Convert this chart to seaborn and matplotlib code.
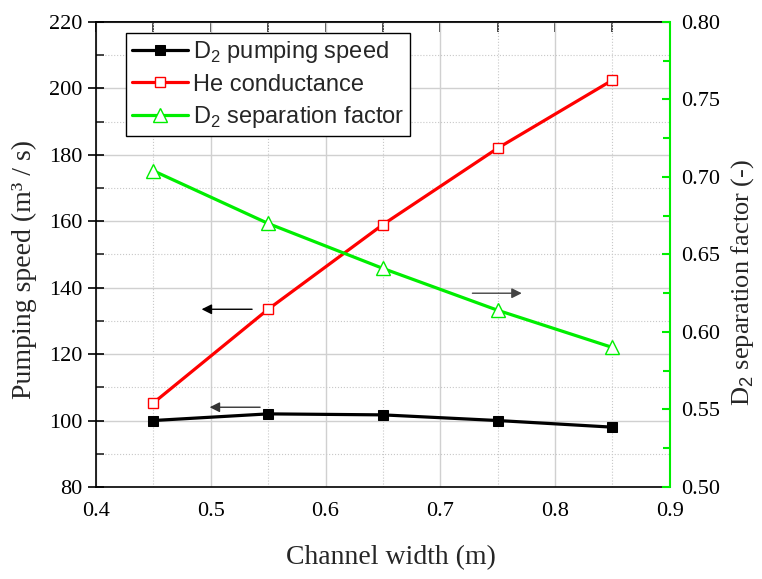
import pandas as pd
import numpy as np
import matplotlib
matplotlib.use("Agg")
import matplotlib.pyplot as plt
from matplotlib.ticker import MultipleLocator, FormatStrFormatter
import seaborn as sns

channel_width = [0.45, 0.55, 0.65, 0.75, 0.85]
d2_pumping = [100.0, 102.0, 101.7, 100.0, 98.0]
he_conductance = [105.3, 133.5, 159.0, 182.0, 202.5]
d2_separation = [0.704, 0.670, 0.641, 0.614, 0.590]

df = pd.DataFrame({
    'width': channel_width,
    'pump': d2_pumping,
    'he': he_conductance,
    'sep': d2_separation,
})

sns.set_theme(style="white")
plt.rcParams['font.family'] = ['Liberation Serif', 'DejaVu Serif']
plt.rcParams['mathtext.fontset'] = 'custom'
plt.rcParams['mathtext.rm'] = 'Liberation Sans'

fig = plt.figure(figsize=(7.62, 5.79), dpi=100)
ax = fig.add_axes([0.126, 0.159, 0.753, 0.803])
ax2 = ax.twinx()

sns.lineplot(data=df, x='width', y='pump', ax=ax, color='black', lw=2.3,
             marker='s', markersize=7.5, markerfacecolor='black',
             markeredgecolor='black', label='D$_2$ pumping speed', legend=False)
sns.lineplot(data=df, x='width', y='he', ax=ax, color='#ff0000', lw=2.3,
             marker='s', markersize=7.5, markerfacecolor='white',
             markeredgecolor='#ff0000', markeredgewidth=1,
             label='He conductance', legend=False)
sns.lineplot(data=df, x='width', y='sep', ax=ax2, color='#00ee00', lw=2.3,
             marker='^', markersize=10, markerfacecolor='white',
             markeredgecolor='#00ee00', markeredgewidth=1,
             label='D$_2$ separation factor', legend=False)

ax.set_xlim(0.4, 0.9)
ax.set_ylim(80, 220)
ax2.set_ylim(0.5, 0.8)

ax.xaxis.set_major_locator(MultipleLocator(0.1))
ax.xaxis.set_minor_locator(MultipleLocator(0.05))
ax.yaxis.set_major_locator(MultipleLocator(20))
ax.yaxis.set_minor_locator(MultipleLocator(10))
ax2.yaxis.set_major_locator(MultipleLocator(0.05))
ax2.yaxis.set_minor_locator(MultipleLocator(0.025))
ax2.yaxis.set_major_formatter(FormatStrFormatter('%.2f'))

ax.grid(which='major', color='#d0d0d0', lw=1, ls='-')
ax.grid(which='minor', color='#c8c8c8', lw=0.8, ls=':')
ax.set_axisbelow(True)

for s in ax.spines.values():
    s.set_color('black')
    s.set_linewidth(1.2)
ax2.spines['right'].set_color('#00ee00')
ax2.spines['right'].set_linewidth(1.5)
ax2.spines['left'].set_visible(False)
ax2.spines['top'].set_visible(False)
ax2.spines['bottom'].set_visible(False)

ax.tick_params(axis='both', which='major', direction='inout', length=12,
               width=1.2, labelsize=16, colors='black')
ax.tick_params(axis='y', which='minor', direction='in', length=6, width=1.2)
ax.tick_params(axis='x', which='minor', direction='out', length=5, width=1.2)
ax.tick_params(axis='x', pad=5)
ax.tick_params(axis='y', right=False, pad=4)

# top axis: inward ticks every 0.05, no labels
top = ax.secondary_xaxis('top')
top.xaxis.set_major_locator(MultipleLocator(0.05))
top.tick_params(direction='in', length=7, width=1.2, labeltop=False)
top.spines['top'].set_linewidth(1.2)

ax2.tick_params(axis='y', which='major', direction='in', length=6, width=1.5,
                color='#00ee00', labelcolor='black', labelsize=16, pad=8)
ax2.tick_params(axis='y', which='minor', direction='in', length=5, width=1.5,
                color='#00ee00')

ax.set_xlabel('Channel width (m)', fontsize=20)
ax.set_ylabel('Pumping speed (m³ / s)', fontsize=20)
ax2.set_ylabel('D$_2$ separation factor (-)', fontsize=19)
ax.xaxis.set_label_coords(0.514, -0.125)
ax.yaxis.set_label_coords(-0.102, 0.467)
ax2.yaxis.set_label_coords(1.104, 0.44)

# direction arrows
arrow_kw = dict(arrowstyle='-|>', lw=1, mutation_scale=15, shrinkA=0, shrinkB=0)
ax.annotate('', xy=(0.492, 133.5), xytext=(0.536, 133.5),
            arrowprops=dict(color='black', **arrow_kw))
ax.annotate('', xy=(0.499, 104), xytext=(0.543, 104),
            arrowprops=dict(color='#333333', **arrow_kw))
ax2.annotate('', xy=(0.771, 0.625), xytext=(0.728, 0.625),
             arrowprops=dict(color='#444444', **arrow_kw))

h1, l1 = ax.get_legend_handles_labels()
h2, l2 = ax2.get_legend_handles_labels()
leg = ax.legend(h1 + h2, l1 + l2, loc='upper left', bbox_to_anchor=(0.052, 0.976),
                prop={'family': 'Liberation Sans', 'size': 17}, frameon=True,
                fancybox=False, edgecolor='black', framealpha=1,
                borderpad=0.25, labelspacing=0.36, handlelength=2.4,
                handletextpad=0.2, borderaxespad=0)
leg.get_frame().set_linewidth(1)
leg.set_zorder(10)

fig.savefig('out.png', dpi=100)
